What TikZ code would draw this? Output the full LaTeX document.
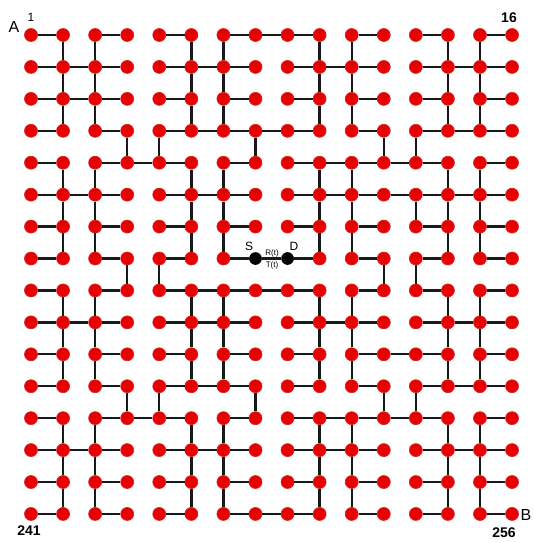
\documentclass[tikz,border=0pt]{standalone}
\usepackage{fontspec}
\setmainfont{Liberation Sans}
\definecolor{nodered}{RGB}{232,0,0}
\definecolor{noderim}{RGB}{205,45,45}
\definecolor{linkcol}{RGB}{25,25,25}
\begin{document}
\begin{tikzpicture}[x=1pt,y=-1pt,
  dot/.style={circle,fill=nodered,draw=noderim,line width=0.7pt,minimum size=13pt,inner sep=0pt},
  sd/.style={circle,fill=black,draw=black,line width=0.6pt,minimum size=12pt,inner sep=0pt},
  link/.style={draw=linkcol,line width=2.3pt},
  lab/.style={inner sep=0pt,font=\bfseries\fontsize{14}{14}\selectfont}]
\useasboundingbox (0,0) rectangle (533,543);
% nodes
\foreach \r in {0,...,15}{
  \foreach \c in {0,...,15}{
    \pgfmathtruncatemacro{\k}{\r*16+\c}
    \ifnum\k=119 \def\st{sd}\else\ifnum\k=120 \def\st{sd}\else\def\st{dot}\fi\fi
    \node[\st] (n-\r-\c) at ({31+32.07*\c},{35+31.93*\r}) {};
  }
}
% horizontal runs r/a/b
\foreach \r/\a/\b in {
  0/0/1, 0/2/3, 0/4/5, 0/6/9, 0/10/11, 0/12/13, 0/14/15,
  1/0/3, 1/4/7, 1/8/11, 1/12/15,
  2/0/3, 2/4/5, 2/6/7, 2/8/9, 2/10/11, 2/12/13, 2/14/15,
  3/0/1, 3/2/3, 3/4/9, 3/10/11, 3/12/15,
  4/0/1, 4/2/5, 4/6/7, 4/8/13, 4/14/15,
  5/0/3, 5/4/7, 5/8/15,
  6/0/1, 6/2/3, 6/4/5, 6/6/7, 6/8/9, 6/10/11, 6/12/13, 6/14/15,
  7/0/1, 7/2/3, 7/4/5, 7/6/9, 7/10/11, 7/12/13, 7/14/15,
  8/0/1, 8/2/3, 8/4/9, 8/10/11, 8/12/13, 8/14/15,
  9/0/3, 9/4/7, 9/8/11, 9/12/15,
  10/0/1, 10/2/3, 10/4/5, 10/6/7, 10/8/9, 10/10/13, 10/14/15,
  11/0/1, 11/2/3, 11/4/7, 11/8/9, 11/10/11, 11/12/15,
  12/0/1, 12/2/5, 12/6/7, 12/8/13, 12/14/15,
  13/0/3, 13/4/7, 13/8/11, 13/12/15,
  14/0/1, 14/2/3, 14/4/5, 14/6/7, 14/8/9, 14/10/11, 14/12/13, 14/14/15,
  15/0/1, 15/2/3, 15/4/5, 15/6/9, 15/10/11, 15/12/13, 15/14/15}{
  \pgfmathtruncatemacro{\bb}{\b-1}
  \foreach \c in {\a,...,\bb}{
    \pgfmathtruncatemacro{\cc}{\c+1}
    \draw[link] (n-\r-\c) -- (n-\r-\cc);
  }
}
% vertical runs c/a/b
\foreach \c/\a/\b in {
  1/0/3, 1/4/7, 1/8/11, 1/12/15,
  2/0/3, 2/4/7, 2/8/11, 2/12/15,
  3/3/4, 3/7/8, 3/11/12,
  4/3/4, 4/7/8, 4/11/12,
  5/0/3, 5/4/7, 5/8/11, 5/12/15,
  6/0/3, 6/4/7, 6/8/11, 6/12/15,
  7/3/4, 7/11/12,
  9/0/3, 9/4/7, 9/8/11, 9/12/15,
  10/0/3, 10/4/7, 10/8/11, 10/12/15,
  11/3/4, 11/7/8, 11/11/12,
  12/3/4, 12/5/6, 12/7/8, 12/11/12,
  13/0/3, 13/4/7, 13/8/11, 13/12/15,
  14/0/3, 14/4/7, 14/8/11, 14/12/15}{
  \pgfmathtruncatemacro{\bb}{\b-1}
  \foreach \r in {\a,...,\bb}{
    \pgfmathtruncatemacro{\rr}{\r+1}
    \draw[link] (n-\r-\c) -- (n-\rr-\c);
  }
}
% labels
\node[inner sep=0pt,font=\fontsize{16}{16}\selectfont] (lA) at (14,27) {A};
\node[inner sep=0pt,font=\fontsize{12}{12}\selectfont] (l1) at (31,17) {1};
\node[lab] (l16) at (509,18) {16};
\node[lab] (l241) at (29,531) {241};
\node[lab] (l256) at (504,533) {256};
\node[inner sep=0pt,font=\fontsize{16}{16}\selectfont] (lB) at (526,515) {B};
\node[inner sep=0pt,font=\fontsize{12}{12}\selectfont] (lS) at (249,246) {S};
\node[inner sep=0pt,font=\fontsize{12}{12}\selectfont] (lD) at (294,246) {D};
\node[inner sep=0pt,font=\fontsize{8}{8}\selectfont] (lR) at (272,253) {R(t)};
\node[inner sep=0pt,font=\fontsize{8}{8}\selectfont] (lT) at (272,265) {T(t)};
\end{tikzpicture}
\end{document}
